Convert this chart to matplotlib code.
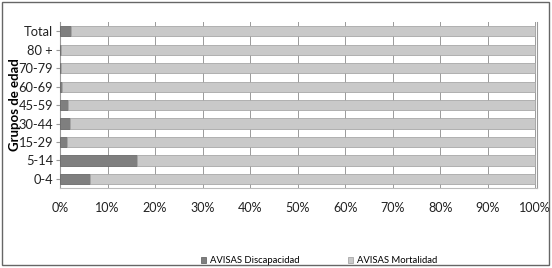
import matplotlib.pyplot as plt
import numpy as np

grupos = ['0-4', '5-14', '15-29', '30-44', '45-59', '60-69', '70-79', '80 +', 'Total']
discapacidad = [6.3, 16.3, 1.5, 2.2, 1.6, 0.4, 0.2, 0.2, 2.3]
mortalidad = [100 - v for v in discapacidad]
ticks = [0, 10, 20, 30, 40, 50, 60, 70, 80, 90, 100]

plt.rcParams['font.family'] = ['Lato', 'DejaVu Sans']

fig = plt.figure(figsize=(5.52, 2.68), dpi=100)
ax = fig.add_axes([0.1087, 0.298, 0.865, 0.62])

y = np.arange(len(grupos))
ax.barh(y, discapacidad, height=0.55, color='#7f7f7f', edgecolor='#6a6a6a', linewidth=0.6,
        label='AVISAS Discapacidad', zorder=3)
ax.barh(y, mortalidad, left=discapacidad, height=0.55, color='#c9c9c9', edgecolor='#a8a8a8',
        linewidth=0.6, label='AVISAS Mortalidad', zorder=3)

ax.set_xlim(0, 100.5)
ax.set_ylim(-0.5, len(grupos) - 0.5)
ax.set_xticks(ticks)
ax.set_xticklabels([f'{t}%' for t in ticks], fontsize=9, color='#222222')
ax.set_yticks(y)
ax.set_yticklabels(grupos, fontsize=9.3, color='#222222')
ax.grid(axis='x', color='#9a9a9a', linewidth=0.7, zorder=0)
ax.tick_params(axis='x', length=0, pad=10)
ax.tick_params(axis='y', length=3, color='#999999', pad=2)
ax.spines['top'].set_visible(False)
ax.spines['left'].set_color('#999999')
ax.spines['bottom'].set_color('#bbbbbb')
ax.spines['right'].set_color('#999999')
ax.set_ylabel('Grupos de edad', fontsize=9.5, fontweight='bold', labelpad=-2)

leg = fig.legend(loc='lower center', bbox_to_anchor=(0.578, -0.022), ncol=2, frameon=False,
                 fontsize=6.8, handlelength=0.5, handleheight=0.5, handletextpad=0.4,
                 columnspacing=5.2)

fig.patches.append(plt.Rectangle((0.004, 0.012), 0.99, 0.98, transform=fig.transFigure,
                                 fill=False, edgecolor='#666666', linewidth=1))
fig.savefig('out.png', dpi=100)
